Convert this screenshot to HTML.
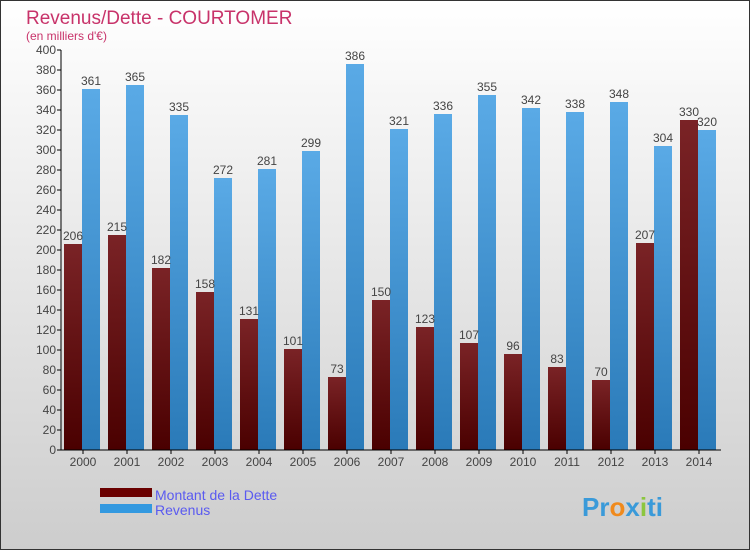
<!DOCTYPE html>
<html><head><meta charset="utf-8"><style>
body{margin:0}
svg{display:block;font-family:"Liberation Sans",sans-serif}
</style></head><body>
<svg width="750" height="550" viewBox="0 0 750 550">
<defs>
<linearGradient id="bg" x1="0" y1="0" x2="0" y2="1"><stop offset="0" stop-color="#ffffff"/><stop offset="1" stop-color="#cdcdcd"/></linearGradient>
<linearGradient id="gd" x1="0" y1="0" x2="0" y2="1"><stop offset="0" stop-color="#7a2326"/><stop offset="1" stop-color="#4a0000"/></linearGradient>
<linearGradient id="gr" x1="0" y1="0" x2="0" y2="1"><stop offset="0" stop-color="#5aaae6"/><stop offset="1" stop-color="#2a7ab8"/></linearGradient>
</defs>
<rect x="0.5" y="0.5" width="749" height="549" fill="url(#bg)" stroke="#333"/>
<text x="26" y="24" font-size="19" fill="#c8336a">Revenus/Dette - COURTOMER</text>
<text x="26" y="40" font-size="12" fill="#c8336a">(en milliers d'€)</text>
<g id="yaxis"></g><g id="bars"></g><g id="xaxis"></g>
<rect x="100" y="488" width="52" height="9" fill="#6a0000"/>
<text x="155" y="500" font-size="14" fill="#5a5af0">Montant de la Dette</text>
<rect x="100" y="504" width="52" height="9" fill="#3399e0"/>
<text x="155" y="515" font-size="14" fill="#5a5af0">Revenus</text>
<text x="582" y="516" font-size="26" font-weight="bold" fill="#3a9ad9">Pr<tspan fill="#f08a1c">o</tspan>x<tspan fill="#8cc63f">i</tspan>ti</text>
</svg>
<script>
const years=["2000","2001","2002","2003","2004","2005","2006","2007","2008","2009","2010","2011","2012","2013","2014"];
const dette=[206,215,182,158,131,101,73,150,123,107,96,83,70,207,330];
const revenus=[361,365,335,272,281,299,386,321,336,355,342,338,348,304,320];
const yTicks=[0,20,40,60,80,100,120,140,160,180,200,220,240,260,280,300,320,340,360,380,400];
const NS="http://www.w3.org/2000/svg";
const y=v=>450-v*1.0;
const xc=i=>83+i*44;
function mk(t,a,p){const e=document.createElementNS(NS,t);for(const k in a)e.setAttribute(k,a[k]);document.getElementById(p).appendChild(e);return e;}
const ax=mk("line",{x1:61,y1:50,x2:61,y2:450,stroke:"#000"},"yaxis");


yTicks.forEach(t=>{
 const l=mk("line",{x1:57,x2:61,y1:y(t),y2:y(t),stroke:"#000"},"yaxis");
 
 
 const tx=mk("text",{x:56,y:y(t)+4,"text-anchor":"end","font-size":12,fill:"#444"},"yaxis");
 tx.textContent=t;
 
 
});
const xl=mk("line",{x1:61,y1:450,x2:721,y2:450,stroke:"#000"},"xaxis");


years.forEach((yr,i)=>{
 const c=xc(i);
 const b1=mk("rect",{x:c-19,y:y(dette[i]),width:18,height:450-y(dette[i]),fill:"url(#gd)"},"bars");
 
 
 const b2=mk("rect",{x:c-1,y:y(revenus[i]),width:18,height:450-y(revenus[i]),fill:"url(#gr)"},"bars");
 
 
 const t1=mk("text",{x:c-10,y:y(dette[i])-4,"text-anchor":"middle","font-size":12,fill:"#444"},"bars");
 t1.textContent=dette[i];
 
 
 const t2=mk("text",{x:c+8,y:y(revenus[i])-4,"text-anchor":"middle","font-size":12,fill:"#444"},"bars");
 t2.textContent=revenus[i];
 
 
 const tk=mk("line",{x1:c,x2:c,y1:450,y2:454,stroke:"#000"},"xaxis");
 
 
 const lb=mk("text",{x:c,y:466,"text-anchor":"middle","font-size":12,fill:"#444"},"xaxis");
 lb.textContent=yr;
 
 
});
</script>
</body></html>
